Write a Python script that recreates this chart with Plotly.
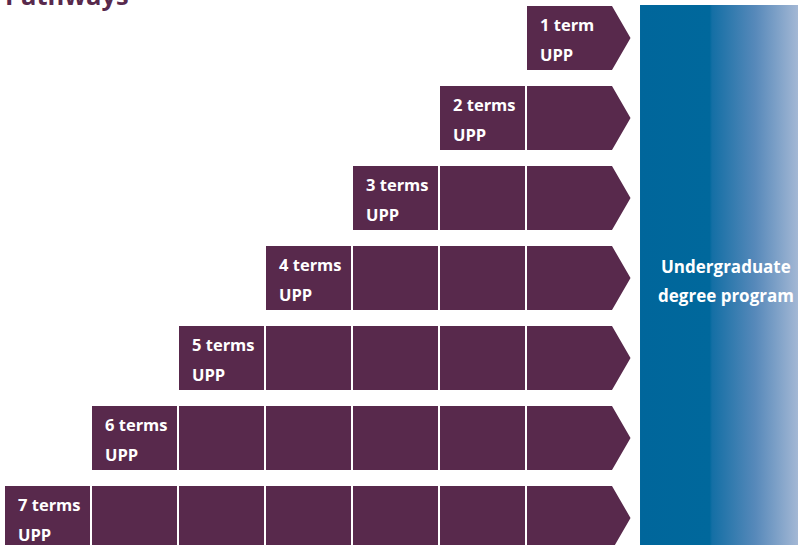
import plotly.graph_objects as go

# ---- data ----
terms = [1, 2, 3, 4, 5, 6, 7]
term_labels = ["1 term", "2 terms", "3 terms", "4 terms", "5 terms", "6 terms", "7 terms"]
program_label = "UPP"
degree_label = ["Undergraduate", "degree program"]
title_text = "Pathways"
n_cols = 7

# ---- style / geometry (in axis units: 1 column pitch, 1 row pitch) ----
PURPLE = "#58294c"
FONT = "Open Sans"
BOX_W = 0.977      # box width relative to column pitch
ARROW_TIP = 1.19   # arrow tip relative to column start
ROW_H = 0.8        # box height relative to row pitch
LBL_SIZE = 16.5

rect_x, rect_y = [], []
arrow_x, arrow_y = [], []
annotations = []

for i, n in enumerate(terms):
    top = i
    bot = i + ROW_H
    mid = (top + bot) / 2
    first_col = n_cols - n
    for c in range(first_col, n_cols):
        if c == n_cols - 1:
            arrow_x += [c, c + BOX_W, c + ARROW_TIP, c + BOX_W, c, c, None]
            arrow_y += [top, top, mid, bot, bot, top, None]
        else:
            rect_x += [c, c + BOX_W, c + BOX_W, c, c, None]
            rect_y += [top, top, bot, bot, top, None]
    annotations.append(dict(x=first_col + 0.13, y=top + 0.23, text=term_labels[i],
                            xref="x", yref="y", xanchor="left", yanchor="middle",
                            showarrow=False,
                            font=dict(family=FONT, size=LBL_SIZE, color="white", weight="bold")))
    annotations.append(dict(x=first_col + 0.13, y=top + 0.6, text=program_label,
                            xref="x", yref="y", xanchor="left", yanchor="middle",
                            showarrow=False,
                            font=dict(family=FONT, size=LBL_SIZE, color="white", weight="bold")))

fig = go.Figure()
fig.add_trace(go.Scatter(x=rect_x, y=rect_y, mode="lines", fill="toself",
                         fillcolor=PURPLE, line=dict(width=0), hoverinfo="skip"))
fig.add_trace(go.Scatter(x=arrow_x, y=arrow_y, mode="lines", fill="toself",
                         fillcolor=PURPLE, line=dict(width=0), hoverinfo="skip"))

# degree program block with horizontal gradient
bx0, bx1 = 7.299, 9.14
by0, by1 = -0.0125, 6.9
fig.add_trace(go.Scatter(
    x=[bx0, bx1, bx1, bx0, bx0], y=[by0, by0, by1, by1, by0],
    mode="lines", fill="toself", line=dict(width=0), hoverinfo="skip",
    fillgradient=dict(type="horizontal",
                      colorscale=[[0, "#00669b"], [0.435, "#00689c"], [0.45, "#146fa5"],
                                  [0.72, "#5789ba"], [1, "#a7bad6"]])))

for j, (line, yy) in enumerate(zip(degree_label, [3.25, 3.6125])):
    annotations.append(dict(x=8.293, y=yy, text=line,
                            xref="x", yref="y", xanchor="center", yanchor="middle",
                            showarrow=False,
                            font=dict(family=FONT, size=LBL_SIZE + 0.5, color="white",
                                      weight="bold")))

annotations.append(dict(x=0.0035, y=1.0083, text=title_text, xref="paper", yref="paper",
                        xanchor="left", yanchor="middle", showarrow=False,
                        font=dict(family=FONT, size=25.5, color=PURPLE, weight="bold")))

fig.update_layout(
    width=798, height=545,
    margin=dict(l=0, r=0, t=0, b=0),
    paper_bgcolor="white", plot_bgcolor="white",
    showlegend=False,
    xaxis=dict(range=[-5 / 87, 793 / 87], visible=False, fixedrange=True),
    yaxis=dict(range=[539 / 80, -6 / 80], visible=False, fixedrange=True),
    annotations=annotations,
)

fig.write_html("out.html", config={"displayModeBar": False},
               post_script="document.body.style.margin='0';")
